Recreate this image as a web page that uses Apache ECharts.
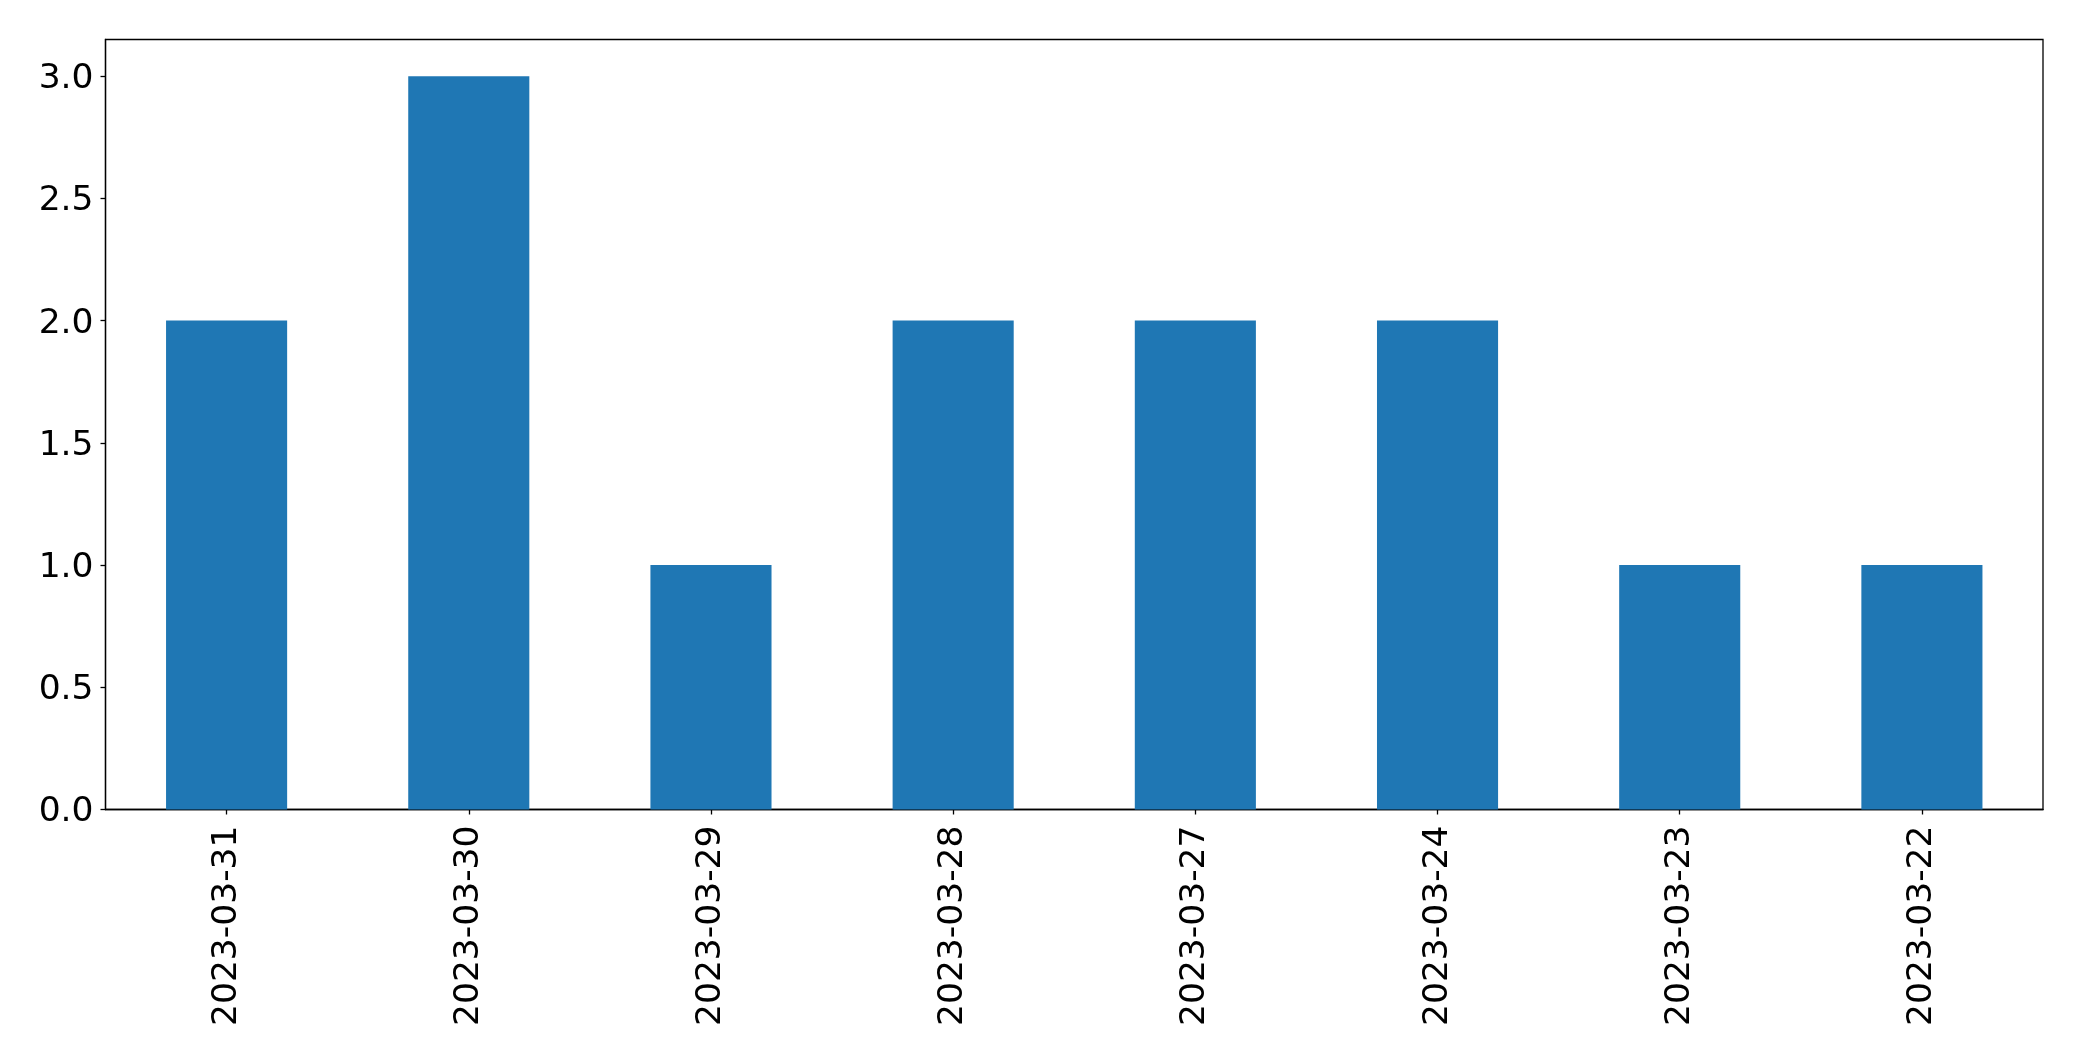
<!DOCTYPE html>
<html><head><meta charset="utf-8">
<script src="https://cdn.jsdelivr.net/npm/echarts@6/dist/echarts.min.js"></script>
<style>html,body{margin:0;padding:0;background:#fff}#c{width:2082px;height:1061px}</style>
</head><body><div id="c"></div>
<script>
const categories = ["2023-03-31","2023-03-30","2023-03-29","2023-03-28","2023-03-27","2023-03-24","2023-03-23","2023-03-22"];
const values = [2, 3, 1, 2, 2, 2, 1, 1];
const yTicks = [0, 0.5, 1, 1.5, 2, 2.5, 3];

const chart = echarts.init(document.getElementById('c'), null, {renderer:'canvas'});
const font = 'DejaVu Sans';
chart.setOption({
  animation: false,
  backgroundColor: '#fff',
  grid: {left: 105.5, right: 39, top: 39.5, bottom: 251.5, show: true, borderColor: '#000', borderWidth: 1.3, backgroundColor: 'transparent'},
  xAxis: {
    type: 'category', data: categories,
    axisLine: {show: true, lineStyle: {color: '#000', width: 1.3}},
    axisTick: {show: true, alignWithLabel: true, length: 5, lineStyle: {color: '#000', width: 1.3}},
    axisLabel: {rotate: 90, fontFamily: font, fontSize: 34.5, color: '#000', margin: 16, interval: 0},
    splitLine: {show: false}
  },
  yAxis: {
    type: 'value', min: 0, max: 3.15,
    axisLine: {show: true, lineStyle: {color: '#000', width: 1.3}},
    axisTick: {show: true, length: 5, lineStyle: {color: '#000', width: 1.3}, customValues: yTicks},
    axisLabel: {
      fontFamily: font, fontSize: 34.5, color: '#000', margin: 12, customValues: yTicks,
      formatter: v => '{a|' + v.toFixed(1) + '}',
      rich: {a: {fontFamily: font, fontSize: 34.5, color: '#000', padding: [6, 0, 0, 0]}}
    },
    splitLine: {show: false}
  },
  series: [{
    type: 'bar', data: values, barWidth: '50%',
    itemStyle: {color: '#1f77b4'}
  }]
});
</script></body></html>
